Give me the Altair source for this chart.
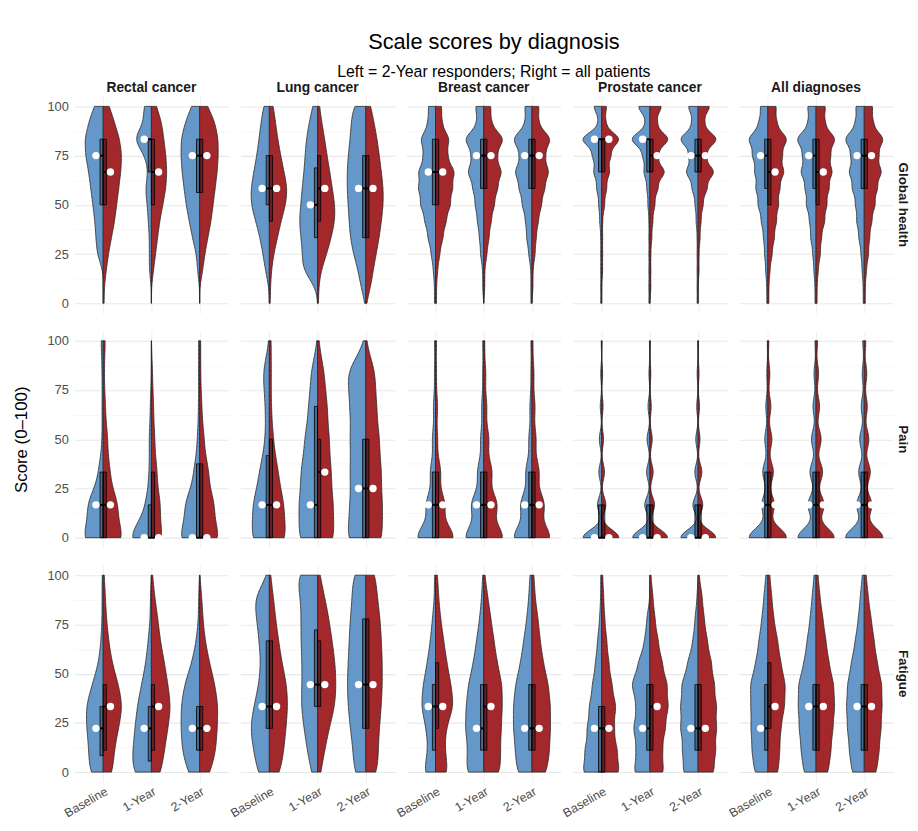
import altair as alt
import pandas as pd

alt.data_transformers.disable_max_rows()

SCALES = ["Global health", "Pain", "Fatigue"]
DIAGNOSES = ["Rectal cancer", "Lung cancer", "Breast cancer", "Prostate cancer", "All diagnoses"]
TIMEPOINTS = ["Baseline", "1-Year", "2-Year"]
GROUPS = ["2-Year responders", "All patients"]

# score levels of each scale
GH_LEVELS = [0, 8.33, 16.67, 25, 33.33, 41.67, 50, 58.33, 66.67, 75, 83.33, 91.67, 100]
PAIN_LEVELS = [0, 16.67, 33.33, 50, 66.67, 83.33, 100]
FATIGUE_LEVELS = [0, 11.11, 22.22, 33.33, 44.44, 55.56, 66.67, 77.78, 88.89, 100]

# relative frequency at each level; order per diagnosis:
# Baseline resp, Baseline all, 1-Year resp, 1-Year all, 2-Year resp, 2-Year all
GH_COUNTS = {
    "Rectal cancer": [
        [0, 0, 0, 6, 7, 8, 10, 12, 14, 17, 18, 14, 9],
        [1, 1, 3, 5, 8, 11, 13, 15, 17, 18, 16, 11, 6],
        [0, 0, 2, 2, 2, 3, 4, 6, 3, 6, 18, 7, 8],
        [0, 0, 2, 4, 6, 8, 11, 14, 15, 14, 12, 10, 5],
        [0, 0, 2, 3, 7, 10, 13, 15, 17, 18, 18, 14, 8],
        [0, 0, 3, 5, 8, 11, 13, 15, 17, 18, 18, 15, 8]],
    "Lung cancer": [
        [0, 0, 4, 6, 9, 13, 18, 18, 15, 12, 10, 8, 6],
        [1, 1, 2, 4, 8, 11, 16, 18, 14, 11, 8, 6, 4],
        [0, 0, 16, 14, 16, 18, 16, 15, 13, 12, 11, 8, 5],
        [1, 1, 3, 9, 13, 17, 17, 14, 12, 9, 7, 4, 2],
        [0, 5, 7, 12, 15, 16, 17, 18, 18, 17, 15, 14, 13],
        [0, 5, 7, 10, 13, 15, 17, 17, 15, 13, 11, 8, 5]],
    "Breast cancer": [
        [1, 1, 2, 4, 7, 10, 14, 16, 16, 11, 14, 7, 7],
        [1, 1, 2, 4, 7, 10, 14, 16, 18, 11, 13, 6, 6],
        [0, 1, 1, 3, 4, 6, 8, 10, 15, 11, 18, 6, 8],
        [0, 1, 1, 3, 5, 7, 10, 13, 17, 12, 19, 7, 7],
        [1, 1, 1, 3, 5, 6, 9, 12, 16, 11, 18, 6, 7],
        [0, 1, 1, 3, 4, 6, 9, 12, 16, 12, 18, 6, 7]],
    "Prostate cancer": [
        [1, 1, 1, 1, 1, 2, 3, 5, 8, 9, 20, 3, 8],
        [0, 0, 1, 1, 1, 1, 3, 5, 8, 9, 18, 4, 5],
        [1, 1, 1, 1, 1, 1, 2, 3, 6, 7, 19, 4, 12],
        [0, 1, 1, 1, 2, 3, 5, 8, 15, 8, 19, 7, 12],
        [1, 1, 1, 1, 1, 2, 3, 6, 12, 9, 18, 6, 10],
        [0, 0, 1, 1, 2, 3, 5, 9, 16, 8, 19, 6, 12]],
    "All diagnoses": [
        [1, 1, 2, 3, 4, 6, 9, 11, 12, 14, 18, 8, 7],
        [1, 1, 2, 4, 6, 8, 10, 11, 15, 13, 18, 8, 8],
        [1, 1, 2, 3, 5, 6, 9, 10, 14, 12, 18, 7, 8],
        [1, 1, 2, 4, 5, 8, 10, 12, 15, 13, 18, 8, 9],
        [1, 1, 2, 3, 5, 7, 8, 11, 14, 12, 18, 8, 8],
        [1, 1, 2, 4, 5, 7, 10, 12, 16, 13, 18, 8, 8]],
}

PAIN_COUNTS = {
    "Rectal cancer": [
        [18, 14, 4, 1, 1, 1, 2],
        [18, 13, 6, 4, 2, 1, 2],
        [20, 5, 2, 2, 1, 0, 0],
        [10, 8, 5, 3, 2, 1, 0],
        [18, 13, 5, 2, 1, 1, 1],
        [18, 13, 8, 4, 2, 1, 1]],
    "Lung cancer": [
        [19, 17, 10, 4, 4, 7, 0],
        [18, 15, 9, 4, 2, 2, 2],
        [20, 19, 17, 13, 9, 7, 0],
        [18, 16, 14, 12, 10, 7, 1],
        [20, 16, 16, 16, 16, 20, 0],
        [18, 17, 16, 14, 11, 10, 0]],
    "Breast cancer": [
        [18, 9, 5, 3, 2, 1, 1],
        [18, 9, 5, 2, 2, 1, 1],
        [18, 12, 6, 3, 2, 1, 1],
        [19, 13, 8, 5, 3, 2, 1],
        [18, 11, 6, 3, 2, 1, 1],
        [18, 12, 7, 4, 3, 2, 1]],
    "Prostate cancer": [
        [40, 9, 6, 5, 3, 2, 1],
        [37, 9, 6, 4, 3, 2, 1],
        [37, 11, 7, 6, 4, 2, 1],
        [38, 10, 7, 5, 3, 2, 1],
        [37, 11, 7, 5, 3, 2, 1],
        [38, 10, 8, 4, 3, 2, 1]],
    "All diagnoses": [
        [37, 12, 10, 6, 4, 2, 1],
        [37, 13, 11, 8, 6, 4, 2],
        [36, 16, 12, 9, 6, 4, 2],
        [36, 16, 13, 10, 7, 5, 3],
        [37, 15, 11, 9, 6, 4, 3],
        [37, 15, 12, 9, 6, 5, 3]],
}

FATIGUE_COUNTS = {
    "Rectal cancer": [
        [13, 13, 15, 16, 10, 4, 2, 1, 1, 1],
        [9, 10, 14, 18, 14, 8, 5, 3, 2, 1],
        [18, 17, 15, 13, 9, 5, 3, 1, 1, 0],
        [9, 12, 15, 18, 15, 12, 8, 6, 3, 1],
        [11, 16, 17, 17, 14, 7, 3, 1, 1, 0],
        [10, 15, 16, 17, 14, 9, 5, 3, 2, 0]],
    "Lung cancer": [
        [12, 15, 19, 15, 10, 8, 10, 12, 16, 0],
        [11, 14, 16, 18, 17, 12, 9, 6, 4, 1],
        [6, 10, 13, 16, 15, 15, 16, 16, 16, 22],
        [3, 7, 11, 17, 18, 17, 14, 11, 7, 2],
        [12, 12, 15, 17, 18, 17, 16, 15, 13, 13],
        [12, 12, 13, 15, 16, 16, 15, 14, 11, 10]],
    "Breast cancer": [
        [12, 7, 9, 14, 12, 8, 5, 3, 1, 1],
        [13, 9, 10, 18, 15, 11, 8, 5, 3, 2],
        [18, 15, 18, 17, 15, 10, 7, 4, 2, 1],
        [17, 16, 17, 18, 18, 13, 10, 7, 4, 1],
        [15, 16, 18, 18, 16, 11, 8, 5, 3, 2],
        [15, 17, 18, 18, 16, 11, 8, 6, 3, 2]],
    "Prostate cancer": [
        [19, 16, 14, 12, 9, 6, 4, 2, 1, 1],
        [18, 15, 12, 14, 10, 7, 5, 3, 2, 1],
        [16, 13, 16, 13, 18, 11, 5, 3, 0, 0],
        [14, 12, 15, 18, 17, 12, 8, 5, 3, 1],
        [15, 15, 17, 17, 16, 10, 5, 3, 1, 0],
        [16, 17, 18, 18, 16, 13, 9, 6, 4, 1]],
    "All diagnoses": [
        [14, 16, 17, 17, 18, 12, 9, 6, 4, 2],
        [11, 12, 13, 17, 18, 13, 10, 6, 4, 2],
        [13, 15, 17, 18, 18, 12, 9, 6, 4, 2],
        [13, 15, 17, 19, 18, 13, 10, 7, 4, 2],
        [13, 15, 17, 18, 17, 13, 9, 6, 4, 2],
        [13, 15, 17, 18, 18, 13, 10, 7, 4, 2]],
}

# box statistics (q1, median, q3), same order as the counts
GH_STATS = {
    "Rectal cancer": [(50, 75, 83.33), (50, 66.67, 83.33), (66.67, 83.33, 83.33),
                      (50, 66.67, 83.33), (56.25, 75, 83.33), (56.25, 75, 83.33)],
    "Lung cancer": [(50, 58.33, 75), (41.67, 58.33, 75), (33.33, 50, 68.75),
                    (41.67, 58.33, 75), (33.33, 58.33, 75), (33.33, 58.33, 75)],
    "Breast cancer": [(50, 66.67, 83.33), (50, 66.67, 83.33), (58.33, 75, 83.33),
                      (58.33, 75, 83.33), (58.33, 75, 83.33), (58.33, 75, 83.33)],
    "Prostate cancer": [(66.67, 83.33, 83.33), (66.67, 83.33, 83.33), (66.67, 83.33, 83.33),
                        (66.67, 75, 83.33), (66.67, 75, 83.33), (66.67, 75, 83.33)],
    "All diagnoses": [(58.33, 75, 83.33), (50, 66.67, 83.33), (58.33, 75, 83.33),
                      (50, 66.67, 83.33), (58.33, 75, 83.33), (58.33, 75, 83.33)],
}
PAIN_STATS = {
    "Rectal cancer": [(0, 16.67, 33.33), (0, 16.67, 33.33), (0, 0, 16.67),
                      (0, 0, 33.33), (0, 0, 37.5), (0, 0, 37.5)],
    "Lung cancer": [(0, 16.67, 41.67), (0, 16.67, 50), (0, 16.67, 66.67),
                    (0, 33.33, 50), (0, 25, 50), (0, 25, 50)],
    "Breast cancer": [(0, 16.67, 33.33)] * 6,
    "Prostate cancer": [(0, 0, 16.67)] * 6,
    "All diagnoses": [(0, 16.67, 33.33)] * 6,
}
FATIGUE_STATS = {
    "Rectal cancer": [(8.33, 22.22, 33.33), (11.11, 33.33, 44.44), (5.56, 22.22, 33.33),
                      (11.11, 33.33, 44.44), (11.11, 22.22, 33.33), (11.11, 22.22, 33.33)],
    "Lung cancer": [(22.22, 33.33, 66.67), (22.22, 33.33, 66.67), (33.33, 44.44, 72.22),
                    (33.33, 44.44, 66.67), (22.22, 44.44, 77.78), (22.22, 44.44, 77.78)],
    "Breast cancer": [(11.11, 33.33, 44.44), (22.22, 33.33, 55.56), (11.11, 22.22, 44.44),
                      (11.11, 33.33, 44.44), (11.11, 22.22, 44.44), (11.11, 22.22, 44.44)],
    "Prostate cancer": [(0, 22.22, 33.33), (0, 22.22, 33.33), (11.11, 22.22, 44.44),
                        (11.11, 33.33, 44.44), (11.11, 22.22, 44.44), (11.11, 22.22, 44.44)],
    "All diagnoses": [(11.11, 22.22, 44.44), (22.22, 33.33, 55.56), (11.11, 33.33, 44.44),
                      (11.11, 33.33, 44.44), (11.11, 33.33, 44.44), (11.11, 33.33, 44.44)],
}

# kernel bandwidth per scale and diagnosis
BANDWIDTH = {
    "Global health": [5, 6, 4, 3.5, 3.8],
    "Pain": [8, 9, 6.5, 4, 5],
    "Fatigue": [7, 7.5, 6.5, 5.5, 6],
}

BLUE = "#6598C8"
RED = "#A3282C"
HALF_WIDTH = 0.385

# ---- build the table ----
rows = []
for scale, levels, counts_map, stats_map in [
    ("Global health", GH_LEVELS, GH_COUNTS, GH_STATS),
    ("Pain", PAIN_LEVELS, PAIN_COUNTS, PAIN_STATS),
    ("Fatigue", FATIGUE_LEVELS, FATIGUE_COUNTS, FATIGUE_STATS),
]:
    for diag in DIAGNOSES:
        for k, counts in enumerate(counts_map[diag]):
            t = TIMEPOINTS[k // 2]
            h = GROUPS[k % 2]
            for lvl, c in zip(levels, counts):
                rows.extend([{"kind": "obs", "s": scale, "d": diag, "t": t, "h": h, "v": lvl}] * c)
            q1, med, q3 = stats_map[diag][k]
            rows.append({"kind": "stat", "s": scale, "d": diag, "t": t, "h": h,
                         "q1": q1, "med": med, "q3": q3})
df = pd.DataFrame(rows)

TI_EXPR = "indexof(['Baseline','1-Year','2-Year'], datum.t)"
SIGN_EXPR = "datum.h == '2-Year responders' ? -1 : 1"

X_SCALE = alt.Scale(domain=[-0.6, 2.6], nice=False, zero=False)
Y_SCALE = alt.Scale(domain=[-5, 105], nice=False, zero=False)
COLOR_SCALE = alt.Scale(domain=GROUPS, range=[BLUE, RED])

X_AXIS = alt.Axis(
    values=[0, 1, 2],
    labelExpr="['Baseline','1-Year','2-Year'][datum.value]",
    labelAngle=-30, labelFontSize=12.5, labelColor="#4d4d4d", labelPadding=2,
    ticks=False, domain=False, grid=True, gridColor="#efefef", gridWidth=1,
    title=None,
)
Y_AXIS = alt.Axis(
    values=[0, 12.5, 25, 37.5, 50, 62.5, 75, 87.5, 100],
    labelExpr="datum.value % 25 == 0 ? datum.label : ''",
    labelFontSize=13, labelColor="#4d4d4d", labelPadding=5,
    ticks=False, domain=False, grid=True,
    gridColor={"condition": {"test": "datum.value % 25 == 0", "value": "#e8e8e8"}, "value": "#f3f3f3"},
    gridWidth={"condition": {"test": "datum.value % 25 == 0", "value": 1.1}, "value": 0.7},
    title=None,
)


def violin(scale, diag, bw):
    return alt.Chart().transform_filter(
        f"datum.kind == 'obs' && datum.s == '{scale}' && datum.d == '{diag}'"
    ).transform_density(
        "v", as_=["v", "density"], groupby=["s", "d", "t", "h"],
        bandwidth=bw, counts=True, steps=150,
    ).transform_joinaggregate(
        maxd="max(density)", groupby=["s", "d"]
    ).transform_calculate(
        ti=TI_EXPR, sign=SIGN_EXPR
    ).transform_calculate(
        xe=f"datum.ti + datum.sign * {HALF_WIDTH} * datum.density / datum.maxd"
    ).mark_area(
        orient="horizontal", stroke="#262626", strokeWidth=0.8, fillOpacity=1
    ).encode(
        y=alt.Y("v:Q", scale=Y_SCALE, axis=Y_AXIS),
        x=alt.X("xe:Q", scale=X_SCALE, axis=X_AXIS),
        x2=alt.X2("ti:Q"),
        color=alt.Color("h:N", scale=COLOR_SCALE, legend=None),
        detail="t:N",
    )


violins = []
for scale in SCALES:
    for i, diag in enumerate(DIAGNOSES):
        violins.append(violin(scale, diag, BANDWIDTH[scale][i]))

stat_base = alt.Chart().transform_filter("datum.kind == 'stat'").transform_calculate(
    ti=TI_EXPR, sign=SIGN_EXPR
).transform_calculate(
    bx1="datum.ti + (datum.sign < 0 ? -0.065 : 0)",
    bx2="datum.ti + (datum.sign < 0 ? 0 : 0.065)",
    px="datum.ti + datum.sign * 0.15",
)

boxes = stat_base.mark_rect(
    fill="black", fillOpacity=0.3, stroke="black", strokeWidth=0.8
).encode(
    x=alt.X("bx1:Q", scale=X_SCALE, axis=X_AXIS),
    x2="bx2:Q",
    y=alt.Y("q1:Q", scale=Y_SCALE, axis=Y_AXIS),
    y2="q3:Q",
)

med_ticks = stat_base.mark_rule(color="black", strokeWidth=2).encode(
    x=alt.X("bx1:Q", scale=X_SCALE, axis=X_AXIS),
    x2="bx2:Q",
    y=alt.Y("med:Q", scale=Y_SCALE, axis=Y_AXIS),
)

points = stat_base.mark_circle(color="white", opacity=1, size=55).encode(
    x=alt.X("px:Q", scale=X_SCALE, axis=X_AXIS),
    y=alt.Y("med:Q", scale=Y_SCALE, axis=Y_AXIS),
)

layered = alt.layer(*violins, boxes, med_ticks, points).properties(width=156, height=219)

chart = layered.facet(
    row=alt.Row(
        "s:N", sort=SCALES,
        header=alt.Header(
            title="Score (0–100)", titleOrient="left", titleFontSize=17,
            titleFontWeight="normal", titleColor="black", titlePadding=6,
            labelOrient="right", labelAngle=90, labelFontSize=13.5,
            labelFontWeight="bold", labelColor="#1a1a1a", labelPadding=2,
        ),
    ),
    column=alt.Column(
        "d:N", sort=DIAGNOSES,
        header=alt.Header(
            title=None, labelFontSize=14, labelFontWeight="bold",
            labelColor="#1a1a1a", labelPadding=1,
        ),
    ),
    data=df,
    spacing={"row": 16, "column": 10},
).properties(
    title=alt.TitleParams(
        text="Scale scores by diagnosis",
        subtitle="Left = 2-Year responders; Right = all patients",
        anchor="middle", fontSize=22, fontWeight="normal", color="black",
        subtitleFontSize=16, subtitleColor="black", subtitlePadding=10, offset=0, dx=33,
    ),
    padding={"left": 4, "right": 0, "top": 19, "bottom": 0},
).configure(
    font="Liberation Sans"
).configure_view(
    stroke="transparent"
)

chart.save("out.html", embed_options={"renderer": "svg", "actions": False})
